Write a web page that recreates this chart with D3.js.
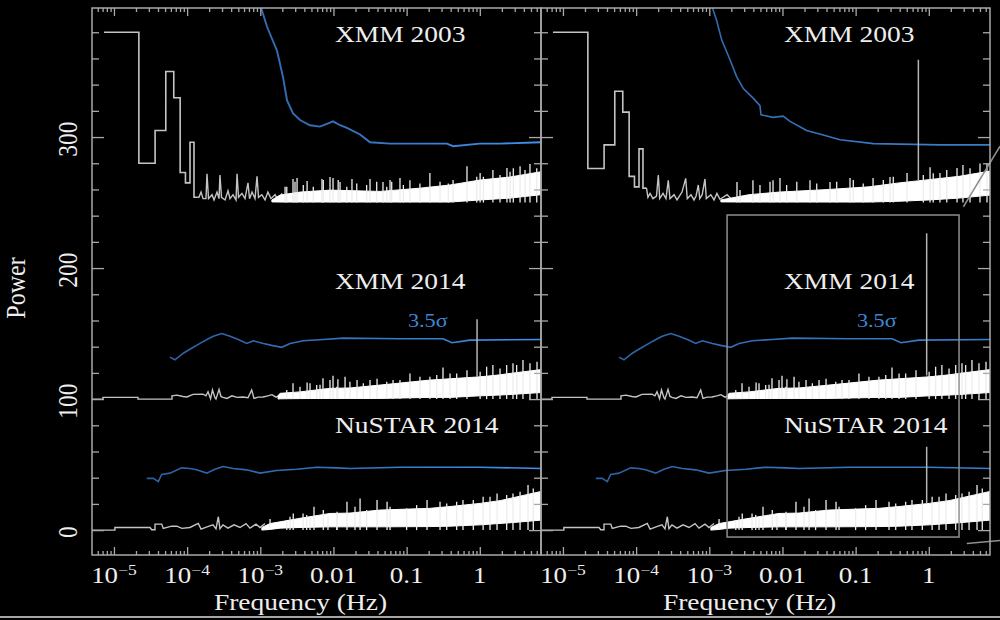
<!DOCTYPE html>
<html><head><meta charset="utf-8">
<script src="https://cdn.jsdelivr.net/npm/d3@7"></script>
<style>html,body{margin:0;background:#000;}svg{display:block;}</style>
</head><body><svg id="chart" width="1000" height="620"></svg>
<script>
// ---------- axis labels ----------
const xTickValues = [1e-5, 1e-4, 1e-3, 0.01, 0.1, 1];
const xTickBase = ["10", "10", "10", "0.01", "0.1", "1"];
const xTickExp = ["\u22125", "\u22124", "\u22123", "", "", ""];
const yTickValues = [0, 100, 200, 300];
const yTickLabels = ["0", "100", "200", "300"];
const seriesNames = ["XMM 2003", "XMM 2014", "NuSTAR 2014"];
const sigmaLabel = "3.5\u03C3";
const sigmaLabelAt = [0.104, 155];

// ---------- XMM 2003 (offset 250) ----------
const xmm03Baseline = 250;
const xmm03BinEdges = [7.3e-6, 2.19e-5, 3.65e-5, 5.11e-5, 6.57e-5, 8.03e-5, 9.49e-5, 1.095e-4, 1.241e-4, 1.387e-4];
const xmm03BinsLeft = [380, 280, 305, 350, 330, 273, 265, 296, 254];
const xmm03BinsRight = [380, 276, 294, 335, 319, 270, 262, 291, 261];
const xmm03TraceLeft = [
  [1.387e-4, 254], [1.45e-4, 254], [1.55e-4, 258], [1.65e-4, 253], [1.81e-4, 253], [1.87e-4, 272],
  [1.96e-4, 253], [2.19e-4, 256], [2.33e-4, 252], [2.56e-4, 258], [2.73e-4, 253], [2.81e-4, 271],
  [2.95e-4, 254], [3.30e-4, 252], [3.62e-4, 259], [3.86e-4, 253], [4.24e-4, 256], [4.66e-4, 252],
  [4.81e-4, 272], [5.04e-4, 254], [5.62e-4, 257], [6.18e-4, 253], [6.79e-4, 265], [7.13e-4, 253],
  [7.71e-4, 258], [8.47e-4, 253], [9.02e-4, 270], [9.46e-4, 254], [1.05e-3, 256], [1.16e-3, 252],
  [1.27e-3, 258], [1.40e-3, 253], [1.59e-3, 256], [1.75e-3, 252], [1.98e-3, 257]
];
const xmm03TraceRight = [
  [1.387e-4, 261], [1.45e-4, 254], [1.55e-4, 257], [1.70e-4, 253], [1.90e-4, 255], [2.01e-4, 271],
  [2.10e-4, 253], [2.33e-4, 257], [2.56e-4, 253], [2.75e-4, 267], [2.90e-4, 253], [3.30e-4, 256],
  [3.62e-4, 252], [4.24e-4, 258], [4.76e-4, 268.5], [5.00e-4, 253], [5.62e-4, 256], [6.18e-4, 252],
  [6.60e-4, 255], [7.08e-4, 263.4], [7.40e-4, 253], [8.00e-4, 256], [8.73e-4, 268], [9.10e-4, 253],
  [1.05e-3, 256], [1.16e-3, 252], [1.27e-3, 257], [1.40e-3, 252.5], [1.75e-3, 256], [1.98e-3, 253]
];
const xmm03BandLeft = [
  [1.44e-3, 250.5, 252], [1.86e-3, 250.4, 255.7], [3.49e-3, 250.4, 258], [8.97e-3, 250.4, 259.5],
  [0.0433, 250.4, 258.5], [0.152, 250.4, 261], [0.392, 250.4, 263.4], [1.01, 252, 267.2],
  [2.59, 253.4, 269.5], [6.86, 256, 273.5]
];
const xmm03BandRight = [
  [1.44e-3, 250.5, 252], [3.49e-3, 250.4, 256], [8.97e-3, 250.4, 258], [0.0433, 250.4, 260],
  [0.152, 250.4, 262], [0.392, 251, 265], [1.01, 252, 267.5], [2.59, 253.4, 270], [6.86, 255.7, 274]
];
const xmm03SpikesLeft = [
  [2.18e-3, 262], [2.30e-3, 262], [2.80e-3, 268], [2.98e-3, 265.9], [3.18e-3, 268.7], [3.87e-3, 263.4],
  [4.36e-3, 266.5], [5.30e-3, 262], [6.97e-3, 267.9], [7.26e-3, 267.2], [8.97e-3, 269.5], [9.86e-3, 268.7],
  [0.0116, 267.2], [0.0123, 265.6], [0.0152, 262], [0.0179, 268], [0.0208, 264.6], [0.0284, 263.4],
  [0.0316, 268], [0.0390, 265.9], [0.0475, 265.6], [0.0535, 262], [0.0593, 267.2], [0.0625, 265.9],
  [0.0811, 268.7], [0.0902, 263.4], [0.111, 267], [0.152, 264.6], [0.208, 272.5], [0.286, 265.9],
  [0.371, 264.6], [0.431, 267.2], [0.668, 277.8], [0.908, 269.7], [1.01, 272.5], [1.12, 269.7],
  [1.51, 274.8], [1.89, 271], [2.35, 276.3], [2.59, 273.5], [2.87, 276.1], [3.55, 277.8], [4.15, 274.8],
  [4.85, 279.4], [6.00, 276.1]
];
const xmm03SpikesRight = [
  [2.39e-3, 265.6], [2.63e-3, 259.5], [3.95e-3, 267], [4.93e-3, 263.4], [6.76e-3, 265.9], [7.43e-3, 267],
  [9.25e-3, 268.7], [0.0114, 263.4], [0.0157, 265.9], [0.0238, 267], [0.0294, 264.6], [0.0447, 265.6],
  [0.0551, 265.9], [0.0838, 268.7], [0.0929, 267.2], [0.127, 264.6], [0.173, 268.7], [0.239, 267.2],
  [0.295, 269.5], [0.327, 269.7], [0.504, 272.5], [0.841, 271], [1.04, 277], [1.15, 272.3], [1.42, 272.5],
  [1.76, 274.8], [2.43, 276.3], [2.93, 278.6], [3.66, 276.1], [5.01, 279.9], [6.24, 280]
];
const xmm03SigmaLeft = [
  [9.3e-4, 412], [1.05e-3, 397], [1.24e-3, 384], [1.69e-3, 366], [2.04e-3, 346], [2.32e-3, 328],
  [2.80e-3, 318], [3.49e-3, 313], [4.78e-3, 309], [6.55e-3, 308], [8.97e-3, 311], [9.86e-3, 312],
  [0.0123, 309], [0.0153, 307], [0.0231, 302], [0.0316, 296], [0.0593, 295], [0.152, 295],
  [0.356, 295], [0.431, 293], [1.0, 295], [1.89, 295], [6.9, 296]
];
const xmm03SigmaRight = [
  [1.05e-3, 405], [1.13e-3, 397], [1.26e-3, 389], [1.48e-3, 374], [1.92e-3, 359], [2.37e-3, 346],
  [2.92e-3, 337], [4.00e-3, 329.5], [4.93e-3, 324], [5.09e-3, 317], [7.43e-3, 315], [0.0102, 316],
  [0.0127, 312], [0.0214, 305], [0.0361, 301.5], [0.0611, 298], [0.175, 295], [1.42, 294], [6.85, 294]
];

// ---------- XMM 2014 (offset 100) ----------
const xmm14Baseline = 100;
const xmm14Trace = [
  [5.01e-6, 100], [7.08e-6, 100], [7.08e-6, 101.3], [2.13e-5, 101.3], [2.13e-5, 100], [6.21e-5, 100],
  [6.21e-5, 102.5], [7.27e-5, 103], [8.79e-5, 102], [9.96e-5, 101.6], [1.20e-4, 103.6], [1.65e-4, 103.8],
  [1.81e-4, 102.5], [1.93e-4, 105.6], [2.09e-4, 100.2], [2.22e-4, 106.9], [2.40e-4, 101], [2.48e-4, 100],
  [2.73e-4, 107.4], [2.90e-4, 102], [3.09e-4, 101.3], [3.51e-4, 100.5], [4.10e-4, 102.5], [4.81e-4, 101.3],
  [5.81e-4, 101.6], [6.79e-4, 101], [7.63e-4, 106.9], [8.20e-4, 100.5], [9.31e-4, 101.5], [1.09e-3, 101.6],
  [1.27e-3, 102.5], [1.44e-3, 103.4], [1.64e-3, 101.5], [1.86e-3, 103]
];
const xmm14Band = [
  [1.75e-3, 100, 102.5], [1.86e-3, 100.2, 104.4], [3.49e-3, 100.4, 105.5], [8.97e-3, 100.5, 108.2],
  [0.0168, 100.5, 108.5], [0.0433, 100.5, 110.7], [0.208, 101.3, 114.5], [0.392, 101.3, 115.5],
  [1.01, 102.5, 117], [1.89, 103.1, 118.5], [2.59, 103.5, 119.6], [6.86, 105, 122.5]
];
const xmm14Spikes = [
  [2.30e-3, 106.9], [2.80e-3, 112], [3.49e-3, 109.4], [4.36e-3, 112.7], [4.78e-3, 112], [5.90e-3, 110.7],
  [6.55e-3, 111], [7.19e-3, 116], [8.97e-3, 114.5], [9.86e-3, 117.8], [0.0111, 109.4], [0.0115, 115.2],
  [0.0144, 117], [0.0168, 113.2], [0.0210, 114.5], [0.0256, 112], [0.0316, 114.5], [0.0394, 115.5],
  [0.0535, 113.2], [0.0652, 114.5], [0.0811, 114.5], [0.111, 119.6], [0.152, 117], [0.208, 117],
  [0.258, 118.3], [0.314, 124.2], [0.392, 119.6], [0.483, 119.6], [0.668, 122.1], [1.01, 120.8],
  [1.24, 124.7], [1.51, 126], [1.89, 123.4], [2.33, 126], [2.84, 127.3], [3.19, 126], [3.89, 129.8],
  [4.85, 127.3], [6.05, 128.5]
];
const xmm14Sigma = [
  [5.83e-5, 132], [6.82e-5, 130], [8.87e-5, 135], [1.09e-4, 138], [1.50e-4, 142.5], [1.95e-4, 146],
  [2.28e-4, 148], [2.97e-4, 150], [3.86e-4, 148], [5.01e-4, 145.5], [6.53e-4, 142.5], [8.04e-4, 144.5],
  [1.10e-3, 142.5], [1.43e-3, 141], [1.96e-3, 139.5], [2.55e-3, 142.5], [3.87e-3, 144.5], [7.27e-3, 145.5],
  [0.0136, 146.5], [0.081, 146], [0.314, 146], [0.417, 143], [0.735, 145], [6.9, 145.5]
];

// ---------- NuSTAR 2014 (offset 0) ----------
const nustarBaseline = 0;
const nustarTrace = [
  [5.01e-6, 0], [1.03e-5, 0], [1.03e-5, 2], [3.11e-5, 2], [3.28e-5, 0.3], [3.64e-5, 0.3], [3.64e-5, 4.6],
  [4.50e-5, 4.6], [4.72e-5, 1.3], [6.15e-5, 3], [7.21e-5, 3], [8.51e-5, 1.3], [1.09e-4, 2], [1.42e-4, 5.1],
  [1.55e-4, 0.8], [1.87e-4, 2.5], [2.26e-4, 4], [2.48e-4, 1], [2.67e-4, 10.2], [2.81e-4, 1], [3.09e-4, 4],
  [3.62e-4, 1.5], [4.38e-4, 4], [5.28e-4, 2], [6.38e-4, 5], [7.23e-4, 1.5], [8.73e-4, 4.5], [9.91e-4, 2],
  [1.16e-3, 5]
];
const nustarBand = [
  [1.05e-3, 0, 2], [1.36e-3, 0.5, 5], [1.86e-3, 1.5, 6.3], [3.49e-3, 2, 9], [8.97e-3, 2.5, 12.7],
  [0.0168, 2.5, 13], [0.0433, 2.5, 15.3], [0.208, 2.7, 16.6], [0.392, 3, 18], [1.01, 4, 20.4],
  [1.89, 5.1, 22.5], [2.59, 5.6, 24.2], [6.86, 7.6, 29.5]
];
const nustarSpikes = [
  [1.36e-3, 8.4], [2.30e-3, 7.6], [2.55e-3, 10.2], [2.82e-3, 12.7], [3.84e-3, 12.7], [4.31e-3, 11.5],
  [4.78e-3, 9.2], [5.42e-3, 17.8], [7.26e-3, 15.3], [8.41e-3, 10.7], [0.0111, 12.7], [0.0112, 14],
  [0.0153, 21.6], [0.0197, 17.8], [0.0231, 24.2], [0.0284, 15.3], [0.0394, 22.9], [0.0540, 21.6],
  [0.0593, 17.8], [0.100, 16.6], [0.137, 19.1], [0.190, 22.9], [0.286, 21.6], [0.353, 20.4],
  [0.483, 21.6], [0.589, 22.9], [0.815, 22.9], [1.11, 25.4], [1.38, 25.4], [1.72, 28], [2.33, 26.7],
  [2.84, 28], [3.55, 29.2], [4.56, 34.4], [5.38, 31.8]
];
const nustarSigma = [
  [2.81e-5, 39.5], [3.45e-5, 39.5], [4.04e-5, 37], [4.49e-5, 42.5], [5.83e-5, 43.5], [8.43e-5, 47.5],
  [1.09e-4, 47], [1.35e-4, 46], [1.85e-4, 43.5], [2.40e-4, 46.5], [3.12e-4, 48.5], [4.27e-4, 47],
  [6.52e-4, 46], [9.91e-4, 43.5], [1.67e-3, 45.5], [3.15e-3, 46.5], [5.90e-3, 48], [0.0111, 47.5],
  [0.0168, 47], [0.081, 48], [1.0, 48], [6.9, 47]
];

// ---------- annotations ----------
// candidate-frequency markers: [frequency, power from, power to]
const markersLeft = [[0.917, 117, 161]];
const markersRight = [[0.72, 267, 359], [0.935, 118, 226.5], [0.935, 20.4, 63.6]];
const zoomBoxFreq = [1.75e-3, 2.59];
const zoomBoxPower = [-5.3, 240.5];
const connectorSegments = [
  [[2.97, 246.8], [9.4, 293]],
  [[3.3, -10.2], [9.4, -8]]
];

// ---------- drawing ----------
const svg = d3.select("#chart");
svg.append("rect").attr("width", 1000).attr("height", 620).attr("fill", "#000");
const defs = svg.append("defs");

const frameColor = "#a9a9a9";
const traceColor = "#c4c4c4";
const textColor = "#eeeeee";
const labelBlue = "#3f86d6";
const font = "'Liberation Serif', 'Times New Roman', serif";
const stretch = 1.17;
const plotTop = 8, plotBottom = 555;

const y = d3.scaleLinear().domain([-19, 398.5]).range([plotBottom, plotTop]);

function drawPanel(x0, cfg) {
  const x = d3.scaleLog().domain([5.012e-6, 6.86]).range([x0, x0 + 449]);
  const x1 = x0 + 449;
  const clipId = "clip" + x0;
  defs.append("clipPath").attr("id", clipId)
    .append("rect").attr("x", x0).attr("y", plotTop).attr("width", x1 - x0).attr("height", plotBottom - plotTop);
  // blue sigma curves brighten towards high frequency
  const gradId = "blue" + x0;
  const grad = defs.append("linearGradient").attr("id", gradId).attr("gradientUnits", "userSpaceOnUse")
    .attr("x1", x0).attr("x2", x1).attr("y1", 0).attr("y2", 0);
  grad.append("stop").attr("offset", "0").attr("stop-color", "#2a5a98");
  grad.append("stop").attr("offset", "0.55").attr("stop-color", "#3472bb");
  grad.append("stop").attr("offset", "1").attr("stop-color", cfg.blueEnd);

  const plot = svg.append("g").attr("clip-path", `url(#${clipId})`);
  const line = d3.line().x(d => x(d[0])).y(d => y(d[1]));
  const band = d3.area().x(d => x(d[0])).y0(d => y(d[1])).y1(d => y(d[2]));

  function series(s) {
    if (s.bins) {
      const pts = s.bins.map((p, i) => [s.edges[i], p]);
      pts.push([s.edges[s.bins.length], s.bins[s.bins.length - 1]]);
      plot.append("path").attr("d", d3.line().x(d => x(d[0])).y(d => y(d[1])).curve(d3.curveStepAfter)(pts))
        .attr("fill", "none").attr("stroke", traceColor).attr("stroke-width", 1.6);
    }
    plot.append("path").attr("d", line(s.trace))
      .attr("fill", "none").attr("stroke", traceColor).attr("stroke-width", 1.4);
    plot.append("path").attr("d", band(s.band)).attr("fill", "#fff").attr("stroke", "#fff").attr("stroke-width", 1);
    plot.selectAll(null).data(s.spikes).join("line")
      .attr("x1", d => x(d[0])).attr("x2", d => x(d[0]))
      .attr("y1", y(s.base)).attr("y2", d => y(d[1]))
      .attr("stroke", "#ededed").attr("stroke-width", 1.3);
    plot.append("path").attr("d", line(s.sigma))
      .attr("fill", "none").attr("stroke", `url(#${gradId})`).attr("stroke-width", s.sigmaWidth || 1.6);
  }

  series({ bins: cfg.bins03, edges: xmm03BinEdges, trace: cfg.trace03, band: cfg.band03, spikes: cfg.spikes03, sigma: cfg.sigma03, base: xmm03Baseline, sigmaWidth: cfg.sigma03Width });
  series({ trace: xmm14Trace, band: xmm14Band, spikes: xmm14Spikes, sigma: xmm14Sigma, base: xmm14Baseline });
  series({ trace: nustarTrace, band: nustarBand, spikes: nustarSpikes, sigma: nustarSigma, base: nustarBaseline });

  // marker lines
  plot.selectAll(null).data(cfg.markers).join("line")
    .attr("x1", d => x(d[0])).attr("x2", d => x(d[0]))
    .attr("y1", d => y(d[1])).attr("y2", d => y(d[2]))
    .attr("stroke", "#b5b5b5").attr("stroke-width", 1.5);

  if (cfg.zoomBox) {
    svg.append("rect")
      .attr("x", x(zoomBoxFreq[0])).attr("y", y(zoomBoxPower[1]))
      .attr("width", x(zoomBoxFreq[1]) - x(zoomBoxFreq[0]))
      .attr("height", y(zoomBoxPower[0]) - y(zoomBoxPower[1]))
      .attr("fill", "none").attr("stroke", "#8f8f8f").attr("stroke-width", 1.5);
    svg.selectAll(null).data(connectorSegments).join("path")
      .attr("d", d => line(d)).attr("fill", "none").attr("stroke", "#8f8f8f").attr("stroke-width", 1.5);
  }

  // ticks (all pointing inward)
  const allX = x.ticks();
  const majorX = allX.filter(v => Math.abs(Math.log10(v) - Math.round(Math.log10(v))) < 1e-9);
  const minorX = allX.filter(v => !majorX.includes(v));
  const styleAxis = g => { g.select(".domain").remove(); g.selectAll("line").attr("stroke", frameColor).attr("stroke-width", 1.3); g.selectAll("text").remove(); };
  [[minorX, 4], [majorX, 8]].forEach(([vals, len]) => {
    svg.append("g").attr("transform", `translate(0,${plotBottom})`)
      .call(d3.axisBottom(x).tickValues(vals).tickSize(-len).tickFormat("")).call(styleAxis);
    svg.append("g").attr("transform", `translate(0,${plotTop})`)
      .call(d3.axisTop(x).tickValues(vals).tickSize(-len).tickFormat("")).call(styleAxis);
  });
  const yMinor = d3.range(0, 399, 20).filter(v => v % 100 !== 0);
  [[yMinor, 7], [yTickValues, 12]].forEach(([vals, len]) => {
    svg.append("g").attr("transform", `translate(${x0},0)`)
      .call(d3.axisLeft(y).tickValues(vals).tickSize(-len).tickFormat("")).call(styleAxis);
    svg.append("g").attr("transform", `translate(${x1},0)`)
      .call(d3.axisRight(y).tickValues(vals).tickSize(-len).tickFormat("")).call(styleAxis);
  });

  // frame
  svg.append("rect").attr("x", x0).attr("y", plotTop).attr("width", x1 - x0).attr("height", plotBottom - plotTop)
    .attr("fill", "none").attr("stroke", frameColor).attr("stroke-width", 1.5);

  // x tick labels
  const xl = svg.selectAll(null).data(xTickValues).join("text")
    .attr("transform", d => `translate(${x(d)},583) scale(${stretch},1)`)
    .attr("text-anchor", "middle").attr("font-family", font).attr("font-size", 23).attr("fill", textColor);
  xl.append("tspan").text((d, i) => xTickBase[i]);
  xl.append("tspan").attr("font-size", 15).attr("dy", -8).text((d, i) => xTickExp[i]);

  svg.append("text").attr("transform", `translate(${(x0 + x1) / 2 - 16},610) scale(${stretch},1)`)
    .attr("text-anchor", "middle").attr("font-family", font).attr("font-size", 23.5).attr("fill", textColor)
    .text("Frequency (Hz)");

  // series titles
  const titleX = x0 + 243;
  [[seriesNames[0], 42], [seriesNames[1], 289], [seriesNames[2], 433]].forEach(([t, yy]) => {
    svg.append("text").attr("transform", `translate(${titleX},${yy}) scale(${stretch},1)`)
      .attr("font-family", font).attr("font-size", 23.5).attr("fill", textColor).text(t);
  });
  svg.append("text").attr("transform", `translate(${x(sigmaLabelAt[0])},${y(sigmaLabelAt[1])}) scale(${stretch},1)`)
    .attr("font-family", font).attr("font-size", 19).attr("fill", labelBlue).text(sigmaLabel);
  return x;
}

drawPanel(92, { bins03: xmm03BinsLeft, trace03: xmm03TraceLeft, band03: xmm03BandLeft, spikes03: xmm03SpikesLeft, sigma03: xmm03SigmaLeft, sigma03Width: 1.9, markers: markersLeft, zoomBox: false, blueEnd: "#3f92ee" });
drawPanel(541, { bins03: xmm03BinsRight, trace03: xmm03TraceRight, band03: xmm03BandRight, spikes03: xmm03SpikesRight, sigma03: xmm03SigmaRight, sigma03Width: 1.6, markers: markersRight, zoomBox: true, blueEnd: "#3a7fcc" });

// y tick labels and title (left panel only)
svg.selectAll(null).data(yTickValues).join("text")
  .attr("transform", d => `translate(77,${y(d) + 2}) scale(${stretch},1) rotate(-90)`)
  .attr("text-anchor", "middle").attr("font-family", font).attr("font-size", 23.5).attr("fill", textColor)
  .text((d, i) => yTickLabels[i]);
svg.append("text").attr("transform", `translate(25,288) scale(${stretch},1) rotate(-90)`)
  .attr("text-anchor", "middle").attr("font-family", font).attr("font-size", 24).attr("fill", textColor)
  .text("Power");

// thin rule along the bottom edge
svg.append("line").attr("x1", 0).attr("x2", 1000).attr("y1", 617).attr("y2", 617)
  .attr("stroke", "#dcdcdc").attr("stroke-width", 1.5);
</script>
</body></html>
